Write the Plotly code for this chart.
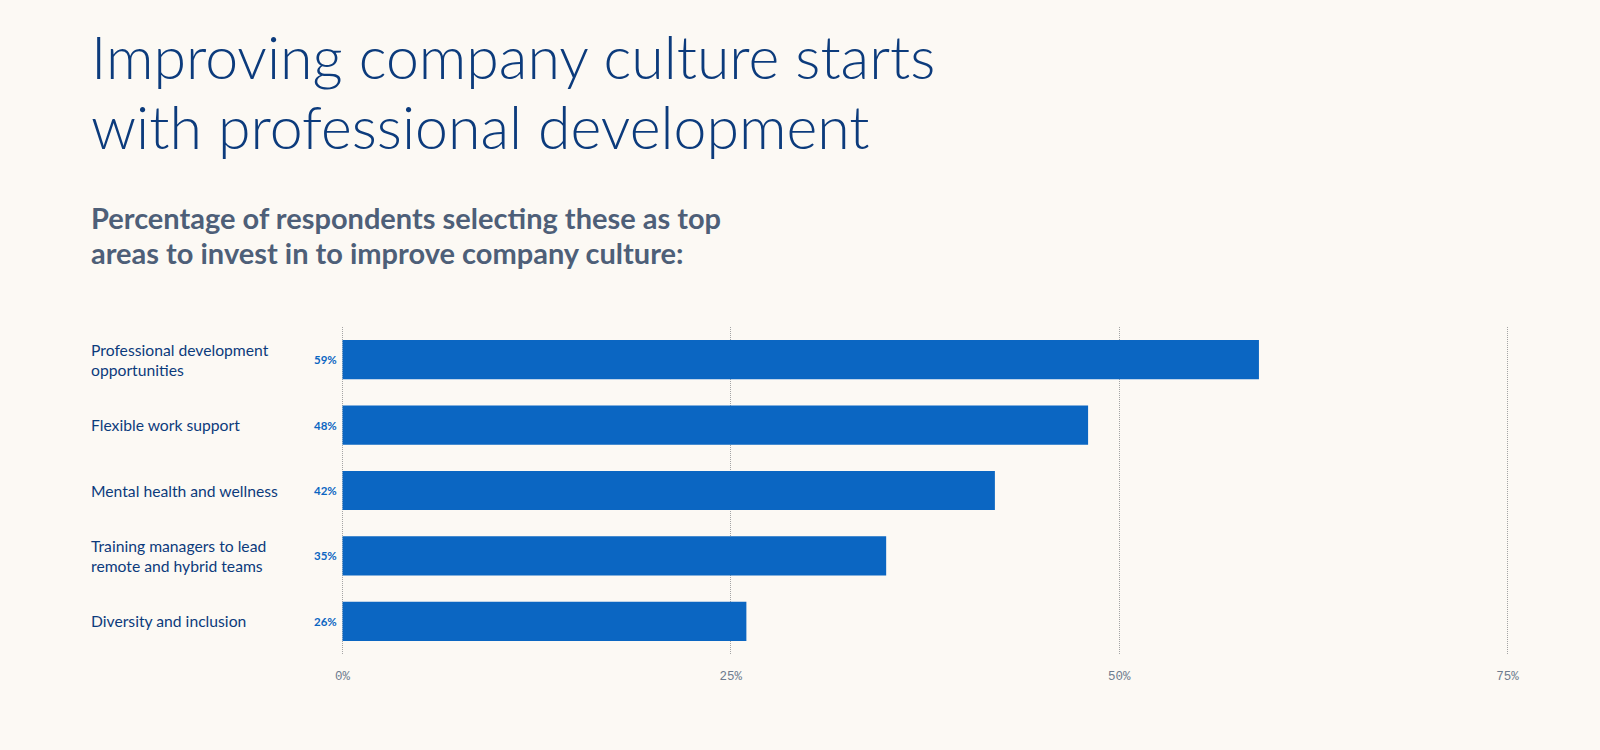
import plotly.graph_objects as go

categories = [
    "Professional development<br>opportunities",
    "Flexible work support",
    "Mental health and wellness",
    "Training managers to lead<br>remote and hybrid teams",
    "Diversity and inclusion",
]
values = [59, 48, 42, 35, 26]
tick_vals = [0, 25, 50, 75]
tick_text = ["0%", "25%", "50%", "75%"]

title_lines = ["Improving company culture starts", "with professional development"]
subtitle_lines = [
    "Percentage of respondents selecting these as top",
    "areas to invest in to improve company culture:",
]

W, H = 1600, 750
L, R, T, B = 341, 91, 327, 96
PW, PH = W - L - R, H - T - B

BG = "#fcf9f4"
BAR = "#0b66c2"
NAVY = "#0c3b7c"
SLATE = "#4e5f78"


def px_x(px):
    return (px - L) / PW


def px_y(py):
    return (H - B - py) / PH


fig = go.Figure(
    go.Bar(
        x=values,
        y=categories,
        orientation="h",
        marker=dict(color=BAR, line=dict(width=0)),
        hoverinfo="skip",
    )
)

annotations = []
for cat, v in zip(categories, values):
    annotations.append(dict(
        x=0, y=cat, xref="paper", yref="y", xanchor="left", yanchor="middle",
        xshift=89 - L, text=cat, showarrow=False, align="left",
        font=dict(family="Lato", size=15.7, color=NAVY),
    ))
    annotations.append(dict(
        x=0, y=cat, xref="x", yref="y", xanchor="right", yanchor="middle",
        xshift=-4, text=f"{v}%", showarrow=False,
        font=dict(family="Lato", size=11.5, color=BAR, weight="bold"),
    ))

for line, top in zip(title_lines, [19, 89]):
    annotations.append(dict(
        x=px_x(89), y=px_y(top), xref="paper", yref="paper", xanchor="left", yanchor="top",
        text=line, showarrow=False, align="left",
        font=dict(family="Lato", size=59, color=NAVY, weight=300),
    ))

for line, top in zip(subtitle_lines, [198, 233]):
    annotations.append(dict(
        x=px_x(89), y=px_y(top), xref="paper", yref="paper", xanchor="left", yanchor="top",
        text=line, showarrow=False, align="left",
        font=dict(family="Lato", size=29, color=SLATE, weight="bold"),
    ))

fig.update_layout(
    width=W, height=H,
    margin=dict(l=L, r=R, t=T, b=B, pad=0),
    paper_bgcolor=BG, plot_bgcolor=BG,
    showlegend=False,
    bargap=0.4,
    annotations=annotations,
    xaxis=dict(
        range=[-0.1, 75.1], tickvals=tick_vals, ticktext=tick_text,
        showgrid=True, gridcolor="#a4a4a4", griddash="1px,1px", gridwidth=1,
        zeroline=False, showline=False, ticks="",
        tickfont=dict(family="Liberation Mono", size=12.5, color="#6e7c8f"),
        ticklabelstandoff=12,
    ),
    yaxis=dict(
        autorange="reversed", showticklabels=False, showgrid=False,
        zeroline=False, showline=False, ticks="",
    ),
)

fig.write_html("out.html")
